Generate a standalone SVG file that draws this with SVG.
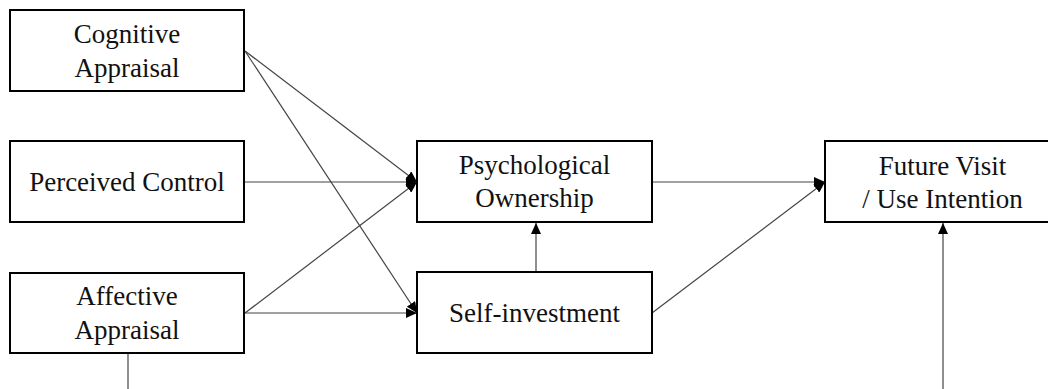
<svg xmlns="http://www.w3.org/2000/svg" width="1048" height="389" viewBox="0 0 1048 389">
<defs>
<marker id="arr" markerUnits="userSpaceOnUse" markerWidth="11" markerHeight="10" viewBox="0 0 11 10" refX="11" refY="5" orient="auto">
<path d="M0,0 L11,5 L0,10 z" fill="#000"/>
</marker>
<style>
.box{fill:#fff;stroke:#000;stroke-width:2}
.lbl{font-family:'Liberation Serif','Times New Roman',serif;font-size:27px;fill:#111;text-anchor:middle}
.ln{stroke:#444;stroke-width:1.2;fill:none}
.a{marker-end:url(#arr)}
</style>
</defs>
<rect width="1048" height="389" fill="#fff"/>
<g id="connectors">
<line class="ln a" x1="245" y1="51" x2="417" y2="182"/>
<line class="ln a" x1="245" y1="51" x2="417" y2="313"/>
<line class="ln a" x1="245" y1="182" x2="417" y2="182"/>
<line class="ln a" x1="245" y1="313" x2="417" y2="182"/>
<line class="ln a" x1="245" y1="313" x2="417" y2="313"/>
<line class="ln a" x1="536" y1="272" x2="536" y2="223"/>
<line class="ln a" x1="652" y1="182" x2="825" y2="182"/>
<line class="ln a" x1="652" y1="313" x2="825" y2="182"/>
<line class="ln a" x1="943" y1="389" x2="943" y2="223"/>
<line class="ln" x1="128" y1="354" x2="128" y2="389"/>
</g>
<g id="cognitive">
<rect class="box" x="10" y="10" width="234" height="81"/>
<text class="lbl" x="127" y="43">Cognitive</text>
<text class="lbl" x="127" y="77">Appraisal</text>
</g>
<g id="perceived">
<rect class="box" x="10" y="141" width="234" height="81"/>
<text class="lbl" x="127" y="191">Perceived Control</text>
</g>
<g id="affective">
<rect class="box" x="10" y="273" width="234" height="80"/>
<text class="lbl" x="127" y="305">Affective</text>
<text class="lbl" x="127" y="339">Appraisal</text>
</g>
<g id="ownership">
<rect class="box" x="417" y="141" width="235" height="81"/>
<text class="lbl" x="534.5" y="174">Psychological</text>
<text class="lbl" x="534.5" y="207">Ownership</text>
</g>
<g id="selfinvestment">
<rect class="box" x="417" y="272" width="235" height="81"/>
<text class="lbl" x="534.5" y="322">Self-investment</text>
</g>
<g id="intention">
<rect class="box" x="825" y="141" width="235" height="81"/>
<text class="lbl" x="942.5" y="175">Future Visit</text>
<text class="lbl" x="942.5" y="208">/ Use Intention</text>
</g>
</svg>
